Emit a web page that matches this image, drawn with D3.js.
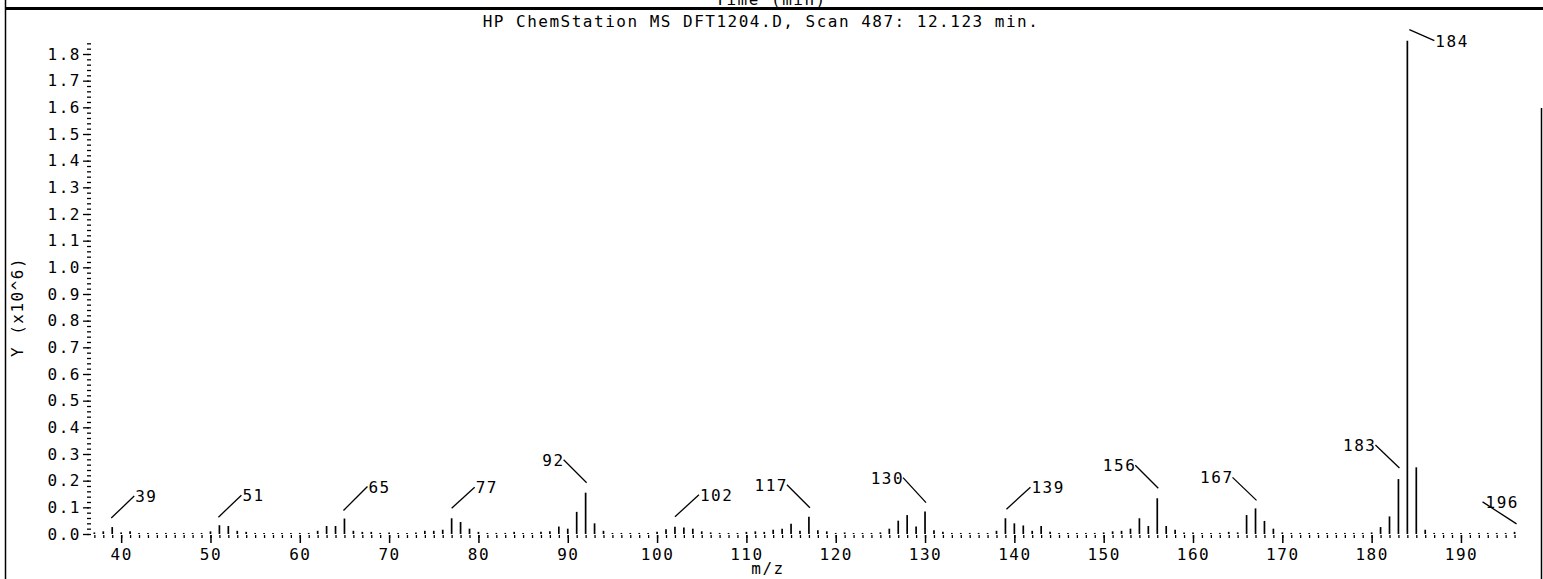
<!DOCTYPE html>
<html>
<head>
<meta charset="utf-8">
<script src="https://cdn.jsdelivr.net/npm/d3@7"></script>
<style>
  body { margin: 0; background: #fff; }
  svg { display: block; }
  text { font-family: "DejaVu Sans Mono", monospace; font-size: 16px; letter-spacing: 1.5px; fill: #000; }
</style>
</head>
<body>
<script>
// m/z of every mark in the scan, and its abundance in millions
var mzValues = [
    37, 38, 39, 40, 41, 42, 43, 44, 45, 46, 47, 48, 49, 50, 51, 52, 53, 54, 55, 56,
    57, 58, 59, 60, 61, 62, 63, 64, 65, 66, 67, 68, 69, 70, 71, 72, 73, 74, 75, 76,
    77, 78, 79, 80, 81, 82, 83, 84, 85, 86, 87, 88, 89, 90, 91, 92, 93, 94, 95, 96,
    97, 98, 99, 100, 101, 102, 103, 104, 105, 106, 107, 108, 109, 110, 111, 112, 113, 114, 115, 116,
    117, 118, 119, 120, 121, 122, 123, 124, 125, 126, 127, 128, 129, 130, 131, 132, 133, 134, 135, 136,
    137, 138, 139, 140, 141, 142, 143, 144, 145, 146, 147, 148, 149, 150, 151, 152, 153, 154, 155, 156,
    157, 158, 159, 160, 161, 162, 163, 164, 165, 166, 167, 168, 169, 170, 171, 172, 173, 174, 175, 176,
    177, 178, 179, 180, 181, 182, 183, 184, 185, 186, 187, 188, 189, 190, 191, 192, 193, 194, 195, 196
];
var abundance = [
    0.006, 0.010, 0.026, 0.006, 0.010, 0.004, 0.004, 0.004, 0.004, 0.004, 0.004, 0.004, 0.004, 0.010, 0.033, 0.030, 0.012, 0.008, 0.004, 0.004,
    0.004, 0.004, 0.004, 0.004, 0.004, 0.012, 0.030, 0.030, 0.058, 0.012, 0.008, 0.008, 0.004, 0.006, 0.004, 0.004, 0.006, 0.012, 0.012, 0.016,
    0.059, 0.045, 0.020, 0.008, 0.004, 0.004, 0.004, 0.008, 0.004, 0.004, 0.008, 0.010, 0.028, 0.020, 0.083, 0.155, 0.040, 0.012, 0.004, 0.004,
    0.004, 0.004, 0.004, 0.008, 0.018, 0.027, 0.024, 0.020, 0.010, 0.006, 0.004, 0.004, 0.004, 0.008, 0.010, 0.008, 0.016, 0.020, 0.038, 0.012,
    0.065, 0.014, 0.010, 0.004, 0.006, 0.004, 0.004, 0.004, 0.006, 0.020, 0.050, 0.071, 0.028, 0.084, 0.014, 0.008, 0.004, 0.004, 0.004, 0.004,
    0.004, 0.012, 0.059, 0.040, 0.032, 0.012, 0.030, 0.008, 0.004, 0.004, 0.004, 0.004, 0.004, 0.006, 0.010, 0.012, 0.020, 0.059, 0.030, 0.134,
    0.030, 0.016, 0.006, 0.006, 0.004, 0.004, 0.004, 0.008, 0.006, 0.071, 0.096, 0.049, 0.020, 0.006, 0.004, 0.004, 0.004, 0.004, 0.004, 0.004,
    0.004, 0.004, 0.004, 0.006, 0.026, 0.066, 0.206, 1.850, 0.250, 0.016, 0.004, 0.004, 0.004, 0.004, 0.004, 0.004, 0.004, 0.004, 0.004, 0.008
];
var labelledPeaks = [39, 51, 65, 77, 92, 102, 117, 130, 139, 156, 167, 183, 184, 196];
var xTickValues = [40, 50, 60, 70, 80, 90, 100, 110, 120, 130, 140, 150, 160, 170, 180, 190];
var yTickValues = [0, 0.1, 0.2, 0.3, 0.4, 0.5, 0.6, 0.7, 0.8, 0.9, 1.0, 1.1, 1.2, 1.3, 1.4, 1.5, 1.6, 1.7, 1.8];
var titleText = "HP ChemStation MS DFT1204.D, Scan 487: 12.123 min.";
var topAxisText = "Time (min)";
var xAxisTitle = "m/z";
var yAxisTitle = "Y (x10^6)";

var svgWidth = 1543;
var svgHeight = 579;

// leader line layout: start / end offset from the peak top, and which side the number sits on
var leader = {
    39:  { s: [-1, -9],  e: [22, -31],  side: "right" },
    51:  { s: [-1, -8],  e: [22, -30],  side: "right" },
    65:  { s: [-1, -8],  e: [23, -32],  side: "right" },
    77:  { s: [0, -10],  e: [23, -31],  side: "right" },
    92:  { s: [1, -10],  e: [-22, -33], side: "left" },
    102: { s: [0, -10],  e: [24, -32],  side: "right" },
    117: { s: [1, -9],   e: [-22, -32], side: "left" },
    130: { s: [1, -9],   e: [-22, -34], side: "left" },
    139: { s: [1, -9],   e: [25, -31],  side: "right" },
    156: { s: [1, -10],  e: [-22, -33], side: "left" },
    167: { s: [1, -8],   e: [-23, -31], side: "left" },
    183: { s: [1, -11],  e: [-23, -34], side: "left" },
    184: { s: [2, -11],  e: [27, 0],    side: "right" },
    196: { s: [2, -8],   e: [-32, -30], side: "over" }
};

var svg = d3.select("body")
    .append("svg")
    .attr("width", svgWidth)
    .attr("height", svgHeight);

var xScale = d3.scaleLinear()
    .domain([36.4, 196.7])
    .range([89, 1520.8]);

var yScale = d3.scaleLinear()
    .domain([0, 1.86])
    .range([534, 38]);

// frame pieces left from the page above
svg.append("line")
    .attr("x1", 5).attr("x2", svgWidth).attr("y1", 8.5).attr("y2", 8.5)
    .attr("stroke", "#000").attr("stroke-width", 3);
svg.append("line")
    .attr("x1", 5.5).attr("x2", 5.5).attr("y1", 0).attr("y2", svgHeight)
    .attr("stroke", "#000").attr("stroke-width", 1.5);
svg.append("line")
    .attr("x1", 1541.5).attr("x2", 1541.5).attr("y1", 108).attr("y2", svgHeight)
    .attr("stroke", "#000").attr("stroke-width", 1.5);

// the time axis title of the plot above is cut by the page edge, as in the print
svg.append("text")
    .attr("x", 771).attr("y", 5)
    .attr("text-anchor", "middle")
    .text(topAxisText);

svg.append("text")
    .attr("x", 761).attr("y", 27)
    .attr("text-anchor", "middle")
    .text(titleText);

// y axis: major ticks with labels, minor ticks every 0.02
var leftAxis = d3.axisLeft(yScale)
    .tickValues(yTickValues)
    .tickSize(6)
    .tickPadding(2)
    .tickFormat(d3.format(".1f"));

svg.append("g")
    .attr("transform", "translate(89, 0)")
    .call(leftAxis)
    .call(g => g.select(".domain").remove())
    .call(g => g.selectAll("text").attr("font-size", null).attr("font-family", null))
    .call(g => g.selectAll("line").attr("stroke-width", 1.3));

var yMinor = d3.range(0, 93).map(i => i * 0.02);
svg.append("g")
    .attr("transform", "translate(91, 0)")
    .call(d3.axisLeft(yScale).tickValues(yMinor).tickSize(4).tickFormat(""))
    .call(g => g.select(".domain").remove())
    .call(g => g.selectAll("line").attr("stroke-width", 1.3));

svg.append("text")
    .attr("transform", "translate(23, 307) rotate(-90)")
    .attr("text-anchor", "middle")
    .text(yAxisTitle);

// x axis: ticks only, no line
var bottomAxis = d3.axisBottom(xScale)
    .tickValues(xTickValues)
    .tickSize(8)
    .tickPadding(5)
    .tickFormat(d3.format("d"));

svg.append("g")
    .attr("transform", "translate(0, 535)")
    .call(bottomAxis)
    .call(g => g.select(".domain").remove())
    .call(g => g.selectAll("text").attr("font-size", null).attr("font-family", null).attr("dy", "0.75em"))
    .call(g => g.selectAll("line").attr("stroke-width", 1.5));

svg.append("g")
    .attr("transform", "translate(0, 535)")
    .call(d3.axisBottom(xScale).tickValues(mzValues).tickSize(3).tickFormat(""))
    .call(g => g.select(".domain").remove())
    .call(g => g.selectAll("line").attr("stroke-width", 1.3));

svg.append("text")
    .attr("x", 768).attr("y", 574)
    .attr("text-anchor", "middle")
    .text(xAxisTitle);

// spectrum sticks
var peaks = mzValues.map((mz, i) => ({ mz: mz, value: abundance[i] }));

svg.append("g")
    .selectAll("line")
    .data(peaks)
    .enter()
    .append("line")
    .attr("x1", d => xScale(d.mz))
    .attr("x2", d => xScale(d.mz))
    .attr("y1", yScale(0))
    .attr("y2", d => yScale(d.value))
    .attr("stroke", "#000")
    .attr("stroke-width", 1.7);

// labelled peaks with leader lines
var labelGroup = svg.append("g");
labelledPeaks.forEach(function(mz) {
    var p = peaks.find(d => d.mz === mz);
    var px = xScale(mz), py = yScale(p.value);
    var l = leader[mz];
    var x1 = px + l.s[0], y1 = py + l.s[1];
    var x2 = px + l.e[0], y2 = py + l.e[1];
    labelGroup.append("line")
        .attr("x1", x1).attr("y1", y1).attr("x2", x2).attr("y2", y2)
        .attr("stroke", "#000").attr("stroke-width", 1.3);
    var t = labelGroup.append("text").text(mz);
    if (l.side === "right") {
        t.attr("x", x2 + 1).attr("y", y2 + 6).attr("text-anchor", "start");
    } else if (l.side === "left") {
        t.attr("x", x2 + 1).attr("y", y2 + 6).attr("text-anchor", "end");
    } else {
        t.attr("x", x2 + 3).attr("y", y2 + 6).attr("text-anchor", "start");
    }
});
</script>
</body>
</html>
